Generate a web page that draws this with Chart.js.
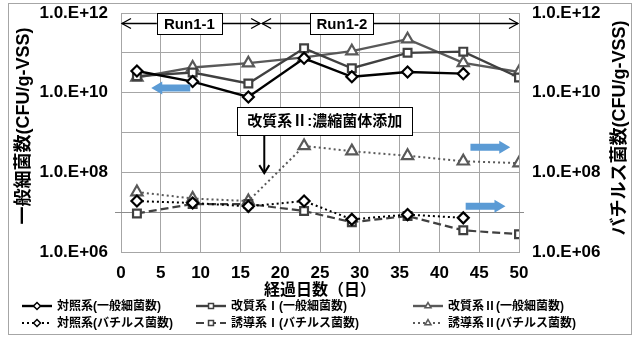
<!DOCTYPE html>
<html>
<head>
<meta charset="utf-8">
<script src="https://cdn.jsdelivr.net/npm/chart.js@4.4.1/dist/chart.umd.min.js"></script>
<style>
  html, body { margin: 0; padding: 0; background: #fff; }
  #wrap { width: 638px; height: 340px; }
</style>
</head>
<body>
<div id="wrap"><canvas id="chart" width="638" height="340"></canvas></div>
<script>
// sampling days
const days = [2, 9, 16, 23, 29, 36, 43, 50];

// general bacteria (left axis)
const controlGeneral = [3.5e10, 1.9e10, 7.8e9, 7.3e10, 2.5e10, 3.3e10, 3.0e10, null];
const mod1General = [2.6e10, 3.2e10, 1.7e10, 1.3e11, 4.1e10, 1.0e11, 1.07e11, 2.4e10];
const mod2General = [2.4e10, 4.3e10, 5.5e10, 7.7e10, 1.1e11, 2.2e11, 5.6e10, 3.3e10];

// bacillus (right axis)
const controlBacillus = [1.9e7, 1.7e7, 1.4e7, 1.9e7, 6.6e6, 8.7e6, 7.2e6, null];
const mod1Bacillus = [9.3e6, 1.6e7, 1.6e7, 1.07e7, 5.6e6, 8.0e6, 3.5e6, 2.8e6];
const mod2Bacillus = [3.2e7, 2.2e7, 1.9e7, 4.6e8, 3.4e8, 2.6e8, 1.9e8, 1.7e8];

const seriesNames = [
  '対照系(一般細菌数)', '改質系Ⅰ(一般細菌数)', '改質系Ⅱ(一般細菌数)',
  '対照系(バチルス菌数)', '誘導系Ⅰ(バチルス菌数)', '誘導系Ⅱ(バチルス菌数)'
];
const decades = [6, 7, 8, 9, 10, 11, 12];

const FONT = "'Liberation Sans', Arial, 'Noto Sans CJK JP', sans-serif";

function pts(arr) {
  return days.map((d, i) => ({ x: d, y: arr[i] })).filter(p => p.y !== null);
}

function tickText(v) {
  const e = Math.round(Math.log10(v));
  return e % 2 === 0 ? '1.0.E+' + String(e).padStart(2, '0') : '';
}

// everything drawn around the plot: boxes, arrows, legend, frame
const extras = {
  id: 'extras',
  beforeDatasetsDraw(chart) {
    // horizontal axis line crosses at 1e7, with small overhangs
    const ctx = chart.ctx, ca = chart.chartArea;
    const y = Math.round(chart.scales.y.getPixelForValue(1e7)) + 0.5;
    ctx.save();
    ctx.strokeStyle = '#8c8c8c';
    ctx.lineWidth = 1;
    ctx.beginPath();
    ctx.moveTo(ca.left - 6, y);
    ctx.lineTo(ca.right + 5, y);
    ctx.stroke();
    ctx.restore();
  },
  afterDraw(chart) {
    const ctx = chart.ctx;
    const xs = chart.scales.x, ys = chart.scales.y;
    const X = v => xs.getPixelForValue(v);
    const Y = e => ys.getPixelForValue(Math.pow(10, e));
    ctx.save();

    // outer frame
    ctx.strokeStyle = '#a6a6a6';
    ctx.lineWidth = 1;
    ctx.strokeRect(8.5, 3.5, 623, 331);

    // axis titles, both reading bottom to top
    ctx.fillStyle = '#000';
    ctx.font = 'bold 18px ' + FONT;
    ctx.textAlign = 'center';
    ctx.textBaseline = 'middle';
    [[24, '一般細菌数(CFU/g-VSS)', 126], [620, 'バチルス菌数(CFU/g-VSS)', 128]].forEach(([tx, t, ty]) => {
      ctx.save();
      ctx.translate(tx, ty);
      ctx.rotate(-Math.PI / 2);
      ctx.fillText(t, 0, 0);
      ctx.restore();
    });

    // run arrows
    const ry = Math.round(Y(11.74)) + 0.5;
    ctx.strokeStyle = '#000';
    ctx.lineWidth = 1.3;
    const chevron = (x, y, dir) => {
      ctx.beginPath();
      ctx.moveTo(x - dir * 9, y - 5);
      ctx.lineTo(x, y);
      ctx.lineTo(x - dir * 9, y + 5);
      ctx.stroke();
    };
    [[0, 17.6], [17.6, 50]].forEach(([a, b]) => {
      ctx.beginPath();
      ctx.moveTo(X(a) + 1, ry);
      ctx.lineTo(X(b) - 1, ry);
      ctx.stroke();
      chevron(X(a) + 1, ry, -1);
      chevron(X(b) - 1, ry, 1);
    });
    const box = (x1, x2, y1, y2, text, size) => {
      ctx.fillStyle = '#fff';
      ctx.fillRect(x1, y1, x2 - x1, y2 - y1);
      ctx.strokeStyle = '#000';
      ctx.lineWidth = 1;
      ctx.strokeRect(Math.round(x1) + 0.5, Math.round(y1) + 0.5, Math.round(x2 - x1), Math.round(y2 - y1));
      ctx.fillStyle = '#000';
      ctx.font = 'bold ' + size + 'px ' + FONT;
      ctx.textAlign = 'center';
      ctx.textBaseline = 'middle';
      ctx.fillText(text, (x1 + x2) / 2, (y1 + y2) / 2 + 1);
    };
    box(X(4.5), X(12.7), ry - 10.5, ry + 10.5, 'Run1-1', 15);
    box(X(23.8), X(31.7), ry - 10.5, ry + 10.5, 'Run1-2', 15);

    // callout for modified system II
    const cy1 = Y(9.64), cy2 = Y(8.93);
    box(X(14.6), X(36.6), cy1, cy2, '改質系Ⅱ:濃縮菌体添加', 15);
    const ax = X(18.0);
    ctx.strokeStyle = '#000';
    ctx.lineWidth = 2;
    ctx.beginPath();
    ctx.moveTo(ax, cy2);
    ctx.lineTo(ax, Y(7.98));
    ctx.stroke();
    ctx.beginPath();
    ctx.moveTo(ax - 5, Y(7.98) - 8);
    ctx.lineTo(ax, Y(7.98));
    ctx.lineTo(ax + 5, Y(7.98) - 8);
    ctx.stroke();

    // blue block arrows showing the axis for each group
    const blue = (x1, x2, y, dir) => {
      const tip = dir > 0 ? x2 : x1, tail = dir > 0 ? x1 : x2;
      const neck = tip - dir * 11;
      ctx.fillStyle = '#5b9bd5';
      ctx.beginPath();
      ctx.moveTo(tail, y - 3.5);
      ctx.lineTo(neck, y - 3.5);
      ctx.lineTo(neck, y - 6.5);
      ctx.lineTo(tip, y);
      ctx.lineTo(neck, y + 6.5);
      ctx.lineTo(neck, y + 3.5);
      ctx.lineTo(tail, y + 3.5);
      ctx.closePath();
      ctx.fill();
    };
    blue(X(3.8), X(8.7), Y(10.12), -1);
    blue(X(43.9), X(48.9), Y(8.63), 1);
    blue(X(43.3), X(48.3), Y(7.15), 1);

    // legend
    const colX = [22, 196, 413], rowY = [306, 323];
    chart.data.datasets.forEach((ds, i) => {
      const cx = colX[i % 3], cyy = rowY[Math.floor(i / 3)];
      ctx.strokeStyle = ds.borderColor;
      ctx.lineWidth = ds.borderWidth;
      ctx.setLineDash(ds.borderDash || []);
      ctx.beginPath();
      ctx.moveTo(cx, cyy);
      ctx.lineTo(cx + 30, cyy);
      ctx.stroke();
      ctx.setLineDash([]);
      ctx.fillStyle = '#fff';
      ctx.lineWidth = 1.5;
      Chart.helpers.drawPoint(ctx, { pointStyle: ds.pointStyle, radius: 3.5, borderWidth: 1.5, rotation: 0 }, cx + 15, cyy);
      ctx.fillStyle = '#000';
      ctx.font = 'bold 12px ' + FONT;
      ctx.textAlign = 'left';
      ctx.textBaseline = 'middle';
      ctx.fillText(ds.label, cx + 35, cyy + 1);
    });
    ctx.restore();
  }
};

const gridColor = '#a6a6a6';

// fixed widths, and no extra room above/below for the end labels
const fitY = w => s => { s.width = w; s.paddingTop = 0; s.paddingBottom = 0; };

new Chart(document.getElementById('chart'), {
  type: 'line',
  data: {
    datasets: [
      { label: seriesNames[0], data: pts(controlGeneral), yAxisID: 'y',
        borderColor: '#000', borderWidth: 2.4, pointStyle: 'rectRot', pointRadius: 5.5 },
      { label: seriesNames[1], data: pts(mod1General), yAxisID: 'y',
        borderColor: '#404040', borderWidth: 2.4, pointStyle: 'rect', pointRadius: 5.5 },
      { label: seriesNames[2], data: pts(mod2General), yAxisID: 'y',
        borderColor: '#595959', borderWidth: 2.4, pointStyle: 'triangle', pointRadius: 6.5 },
      { label: seriesNames[3], data: pts(controlBacillus), yAxisID: 'y2',
        borderColor: '#000', borderWidth: 2, borderDash: [2, 3], pointStyle: 'rectRot', pointRadius: 5.5 },
      { label: seriesNames[4], data: pts(mod1Bacillus), yAxisID: 'y2',
        borderColor: '#404040', borderWidth: 2.2, borderDash: [8, 4], pointStyle: 'rect', pointRadius: 5.5 },
      { label: seriesNames[5], data: pts(mod2Bacillus), yAxisID: 'y2',
        borderColor: '#595959', borderWidth: 2, borderDash: [2, 3], pointStyle: 'triangle', pointRadius: 6.5 }
    ].map(ds => Object.assign(ds, {
      pointBackgroundColor: '#fff', pointBorderColor: ds.borderColor, pointBorderWidth: 2.2,
      fill: false, tension: 0
    }))
  },
  options: {
    responsive: false,
    animation: false,
    layout: { padding: { top: 13, bottom: 40, left: 0, right: 0 } },
    plugins: { legend: { display: false }, tooltip: { enabled: false } },
    scales: {
      x: {
        type: 'linear', min: 0, max: 50,
        ticks: { stepSize: 5, color: '#000', padding: 11, font: { family: FONT, size: 17, weight: 'bold' } },
        grid: { color: gridColor, drawTicks: false },
        border: { color: gridColor },
        title: { display: true, text: '経過日数（日）', color: '#000', padding: { top: 0, bottom: 0 },
                 font: { family: FONT, size: 16, weight: 'bold' } },
        afterFit: s => { s.height = 48; s.paddingLeft = 0; s.paddingRight = 0; }
      },
      y: {
        type: 'logarithmic', position: 'left', min: 1e6, max: 1e12,
        afterBuildTicks: s => { s.ticks = decades.map(e => ({ value: Math.pow(10, e) })); },
        ticks: { callback: tickText, color: '#000', padding: 13, autoSkip: false,
                 font: { family: FONT, size: 17, weight: 'bold' } },
        grid: { color: gridColor, drawTicks: false },
        border: { color: gridColor },
        afterFit: fitY(121)
      },
      y2: {
        type: 'logarithmic', position: 'right', min: 1e6, max: 1e12,
        afterBuildTicks: s => { s.ticks = decades.map(e => ({ value: Math.pow(10, e) })); },
        ticks: { callback: tickText, color: '#000', padding: 13, autoSkip: false,
                 font: { family: FONT, size: 17, weight: 'bold' } },
        grid: { drawOnChartArea: false, drawTicks: false },
        border: { color: gridColor },
        afterFit: fitY(119)
      }
    }
  },
  plugins: [extras]
});
</script>
</body>
</html>
